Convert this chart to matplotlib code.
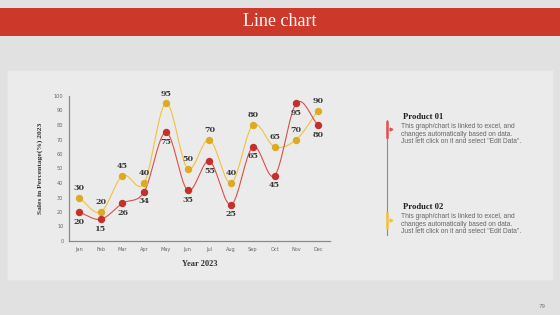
import numpy as np
import matplotlib
matplotlib.use("Agg")
import matplotlib.pyplot as plt
from matplotlib.patches import Rectangle

months = ["Jan", "Feb", "Mar", "Apr", "May", "Jun", "Jul", "Aug", "Sep", "Oct", "Nov", "Dec"]
product_01 = [20, 15, 26, 34, 75, 35, 55, 25, 65, 45, 95, 80]
product_02 = [30, 20, 45, 40, 95, 50, 70, 40, 80, 65, 70, 90]
y_ticks = [0, 10, 20, 30, 40, 50, 60, 70, 80, 90, 100]
note = "This graph/chart is linked to excel, and\nchanges automatically based on data.\nJust left click on it and select \"Edit Data\"."

RED = "#c4302b"
RED_LINE = "#d9504a"
YEL = "#ddaa22"
YEL_LINE = "#f0c23c"


def smooth(x, y, n=20):
    # catmull-rom through the points, like excel's smoothed line
    x = np.asarray(x, float)
    y = np.asarray(y, float)
    px = np.concatenate([[2 * x[0] - x[1]], x, [2 * x[-1] - x[-2]]])
    py = np.concatenate([[2 * y[0] - y[1]], y, [2 * y[-1] - y[-2]]])
    xs, ys = [], []
    t = np.linspace(0, 1, n, endpoint=False)
    for i in range(1, len(px) - 2):
        for p, out in ((px, xs), (py, ys)):
            p0, p1, p2, p3 = p[i - 1], p[i], p[i + 1], p[i + 2]
            out.append(0.5 * (2 * p1 + (-p0 + p2) * t
                              + (2 * p0 - 5 * p1 + 4 * p2 - p3) * t ** 2
                              + (-p0 + 3 * p1 - 3 * p2 + p3) * t ** 3))
    xs.append([x[-1]])
    ys.append([y[-1]])
    return np.concatenate(xs), np.concatenate(ys)


fig = plt.figure(figsize=(5.6, 3.15), dpi=100, facecolor="#e1e1e1")

# red banner and light panel
fig.patches.append(Rectangle((0, 1 - 36 / 315), 1, 28 / 315, transform=fig.transFigure,
                             facecolor="#cc3829", edgecolor="none", zorder=0))
fig.text(0.5, 1 - 22 / 315, "Line chart", ha="center", va="center", color="white",
         fontsize=13, family="Liberation Serif")
fig.patches.append(Rectangle((7 / 560, 1 - 280 / 315), 546 / 560, 210 / 315,
                             transform=fig.transFigure, facecolor="#ebebeb",
                             edgecolor="#e4e4e4", lw=0.8, zorder=0))
fig.text(542 / 560, 1 - 306 / 315, "79", ha="center", va="center", fontsize=4, color="#777")

ax = fig.add_axes([69 / 560, 1 - 241 / 315, 261 / 560, 145 / 315])
ax.set_zorder(3)
ax.set_facecolor("none")
x = np.arange(len(months))

for vals, lc, mc in ((product_02, YEL_LINE, YEL), (product_01, RED_LINE, RED)):
    sx, sy = smooth(x, vals)
    ax.plot(sx, sy, color=lc, lw=0.8, zorder=2)
    ax.plot(x, vals, "o", ms=4.3, color=mc, zorder=3)

for i in x:
    ax.annotate(str(product_02[i]), (i, product_02[i]), xytext=(0, 4), textcoords="offset points",
                ha="center", va="bottom", fontsize=5.8, family="DejaVu Serif",
                fontweight="bold", color="#3a3a3a")
    ax.annotate(str(product_01[i]), (i, product_01[i]), xytext=(0, -4), textcoords="offset points",
                ha="center", va="top", fontsize=5.8, family="DejaVu Serif",
                fontweight="bold", color="#3a3a3a")

ax.set_xlim(-0.46, 11.55)
ax.set_ylim(0, 100)
ax.set_xticks(x, months)
ax.set_yticks(y_ticks)
ax.tick_params(length=0, labelsize=3.6, labelcolor="#666", pad=4)
for s in ("top", "right"):
    ax.spines[s].set_visible(False)
for s in ("left", "bottom"):
    ax.spines[s].set_color("#8a8a8a")
    ax.spines[s].set_linewidth(0.9)
ax.set_xlabel("Year 2023", family="Liberation Serif", fontweight="bold", fontsize=6, color="#333", labelpad=6)
ax.set_ylabel("Sales in Percentage(%) 2023", family="Liberation Serif", fontweight="bold",
              fontsize=5.4, color="#333", labelpad=8)

# right-hand notes
fig.add_artist(plt.Line2D([387 / 560, 387 / 560], [1 - 120 / 315, 1 - 235 / 315],
                          color="#8c8c8c", lw=0.8))
for y0, c in ((122, "#e05050"), (213, "#f0c040")):
    fig.add_artist(plt.Line2D([387 / 560, 387 / 560], [1 - y0 / 315, 1 - (y0 + 15) / 315],
                              color=c, lw=1.8))
    fig.add_artist(plt.Line2D([391 / 560], [1 - (y0 + 7) / 315], marker=">", ms=2,
                              color=c, lw=0))

for y0, name in ((117, "Product 01"), (207, "Product 02")):
    fig.text(403 / 560, 1 - y0 / 315, name, ha="left", va="center", fontsize=6.2,
             family="Liberation Serif", fontweight="bold", color="#222")
    fig.text(401 / 560, 1 - (y0 + 17) / 315, note, ha="left", va="center", fontsize=4.8,
             family="Liberation Sans", color="#666", linespacing=1.1)

fig.savefig("out.png", dpi=100, facecolor=fig.get_facecolor())
